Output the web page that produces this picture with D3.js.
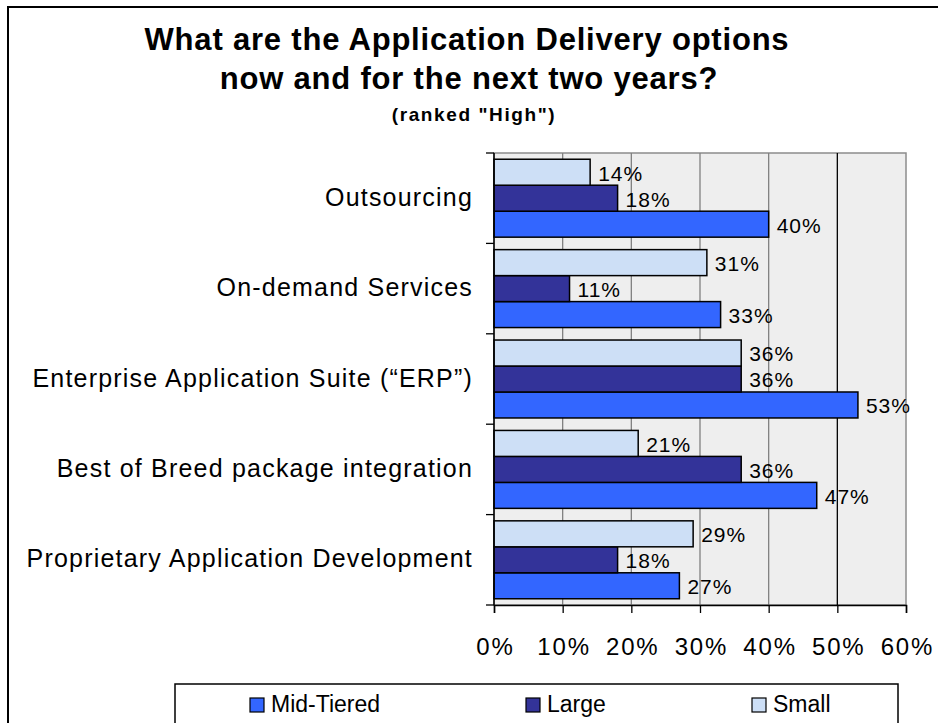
<!DOCTYPE html>
<html>
<head>
<meta charset="utf-8">
<script src="https://cdn.jsdelivr.net/npm/d3@7"></script>
<style>
  body { margin: 0; background: #fff; }
  text { font-family: "Liberation Sans", Arial, sans-serif; fill: #000; }
</style>
</head>
<body>
<div id="chart"></div>
<script>
const categories = [
  'Outsourcing',
  'On-demand Services',
  'Enterprise Application Suite (\u201cERP\u201d)',
  'Best of Breed package integration',
  'Proprietary Application Development'
]
const seriesNames = ['Mid-Tiered', 'Large', 'Small']
const midTiered = [40, 33, 53, 47, 27]
const large = [18, 11, 36, 36, 18]
const small = [14, 31, 36, 21, 29]
const xTicks = [0, 10, 20, 30, 40, 50, 60]

const W = 938, H = 723
const PLOT = { LEFT: 494, RIGHT: 906, TOP: 153, BOTTOM: 605 }
const colors = { 'Mid-Tiered': '#3366ff', 'Large': '#333399', 'Small': '#cddff6' }

const svg = d3.select('#chart').append('svg')
  .attr('width', W)
  .attr('height', H)

// outer frame (right side runs off the page)
svg.append('rect')
  .attr('x', 8).attr('y', 7)
  .attr('width', 960).attr('height', 760)
  .attr('fill', 'none')
  .attr('stroke', '#000')
  .attr('stroke-width', 2)

// titles
svg.append('text')
  .attr('x', 467).attr('y', 50)
  .attr('text-anchor', 'middle')
  .attr('font-size', 31).attr('font-weight', 'bold')
  .attr('letter-spacing', 0.8)
  .text('What are the Application Delivery options')
svg.append('text')
  .attr('x', 469).attr('y', 89)
  .attr('text-anchor', 'middle')
  .attr('font-size', 31).attr('font-weight', 'bold')
  .attr('letter-spacing', 0.8)
  .text('now and for the next two years?')
svg.append('text')
  .attr('x', 474).attr('y', 121)
  .attr('text-anchor', 'middle')
  .attr('font-size', 19).attr('font-weight', 'bold')
  .attr('letter-spacing', 1.6)
  .text('(ranked "High")')

const x = d3.scaleLinear()
  .domain([0, 60])
  .range([PLOT.LEFT, PLOT.RIGHT])

const y0 = d3.scaleBand()
  .domain(categories)
  .range([PLOT.TOP, PLOT.BOTTOM])

// Small on top, Mid-Tiered at the bottom of each group
const y1 = d3.scaleBand()
  .domain(['Small', 'Large', 'Mid-Tiered'])
  .range([0, y0.bandwidth()])
  .paddingOuter(0.24)

const rows = categories.map((c, i) => ({
  category: c,
  values: [
    { key: 'Mid-Tiered', value: midTiered[i] },
    { key: 'Large', value: large[i] },
    { key: 'Small', value: small[i] }
  ]
}))

// plot background
svg.append('rect')
  .attr('x', PLOT.LEFT).attr('y', PLOT.TOP)
  .attr('width', PLOT.RIGHT - PLOT.LEFT)
  .attr('height', PLOT.BOTTOM - PLOT.TOP)
  .attr('fill', '#eeeeee')
  .attr('stroke', '#8c8c8c')
  .attr('stroke-width', 1.5)

// vertical gridlines
svg.append('g')
  .selectAll('line')
  .data(xTicks.slice(1, -1))
  .join('line')
  .attr('x1', d => x(d)).attr('x2', d => x(d))
  .attr('y1', PLOT.TOP).attr('y2', PLOT.BOTTOM)
  .attr('stroke', d => d === 50 ? '#000' : '#808080')
  .attr('stroke-width', 1.3)

// bars
const groups = svg.append('g')
  .selectAll('g')
  .data(rows)
  .join('g')
  .attr('transform', d => `translate(0, ${y0(d.category)})`)

groups.selectAll('rect')
  .data(d => d.values)
  .join('rect')
  .attr('x', x(0))
  .attr('y', d => y1(d.key))
  .attr('width', d => x(d.value) - x(0))
  .attr('height', y1.bandwidth())
  .attr('fill', d => colors[d.key])
  .attr('stroke', '#000')
  .attr('stroke-width', 1.5)

groups.selectAll('text')
  .data(d => d.values)
  .join('text')
  .attr('x', d => x(d.value) + 8)
  .attr('y', d => y1(d.key) + y1.bandwidth() / 2)
  .attr('dy', '0.4em')
  .attr('font-size', 21)
  .attr('letter-spacing', 1)
  .text(d => d.value + '%')

// y axis: ticks at the category boundaries
const yAxis = svg.append('g')
svg.append('line')
  .attr('x1', PLOT.LEFT).attr('x2', PLOT.LEFT)
  .attr('y1', PLOT.TOP).attr('y2', PLOT.BOTTOM)
  .attr('stroke', '#000').attr('stroke-width', 1.5)
yAxis.selectAll('line')
  .data(categories.concat(['end']))
  .join('line')
  .attr('x1', PLOT.LEFT - 8).attr('x2', PLOT.LEFT)
  .attr('y1', (d, i) => PLOT.TOP + i * y0.step())
  .attr('y2', (d, i) => PLOT.TOP + i * y0.step())
  .attr('stroke', '#000').attr('stroke-width', 1.3)
yAxis.selectAll('text')
  .data(categories)
  .join('text')
  .attr('x', PLOT.LEFT - 21)
  .attr('y', d => y0(d) + y0.bandwidth() / 2)
  .attr('dy', '0.3em')
  .attr('text-anchor', 'end')
  .attr('font-size', 25)
  .attr('letter-spacing', 1.2)
  .text(d => d)

// x axis
const xAxis = svg.append('g')
  .attr('transform', `translate(0, ${PLOT.BOTTOM})`)
  .call(d3.axisBottom(x)
    .tickValues(xTicks)
    .tickSize(8)
    .tickPadding(25)
    .tickFormat(d => d + '%'))
xAxis.select('.domain').attr('stroke', '#000').attr('stroke-width', 1.5)
xAxis.selectAll('.tick line').attr('stroke', '#000').attr('stroke-width', 1.3)
xAxis.selectAll('.tick text')
  .attr('font-family', '"Liberation Sans", Arial, sans-serif')
  .attr('font-size', 24)
  .attr('letter-spacing', 1.8)
  .attr('dx', 0.9)
  .attr('fill', '#000')

// legend
svg.append('rect')
  .attr('x', 175).attr('y', 684)
  .attr('width', 723).attr('height', 60)
  .attr('fill', '#fff')
  .attr('stroke', '#000')
  .attr('stroke-width', 1.5)

const legendX = { 'Mid-Tiered': 250, 'Large': 526, 'Small': 752 }
const legend = svg.append('g')
  .selectAll('g')
  .data(seriesNames)
  .join('g')
  .attr('transform', d => `translate(${legendX[d]}, 698)`)
legend.append('rect')
  .attr('width', 14).attr('height', 14)
  .attr('fill', d => colors[d])
  .attr('stroke', '#000')
  .attr('stroke-width', 1.2)
legend.append('text')
  .attr('x', 21).attr('y', 14)
  .attr('font-size', 23)
  .text(d => d)
</script>
</body>
</html>
